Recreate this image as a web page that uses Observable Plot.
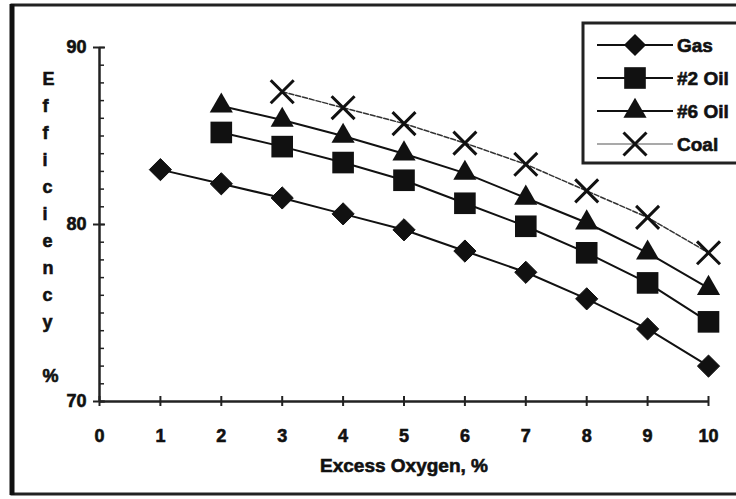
<!DOCTYPE html>
<html>
<head>
<meta charset="utf-8">
<script src="https://cdn.jsdelivr.net/npm/d3@7"></script>
<script src="https://cdn.jsdelivr.net/npm/@observablehq/plot@0.6"></script>
<style>
  html, body { margin: 0; padding: 0; background: #fff; }
  #chart { width: 736px; height: 499px; }
  #chart svg text { stroke: #111; stroke-width: 0.6px; }
</style>
</head>
<body>
<div id="chart"></div>
<script>
// ---- data ----
const series = ["Gas", "#2 Oil", "#6 Oil", "Coal"];
const gasX = [1, 2, 3, 4, 5, 6, 7, 8, 9, 10];
const gasY = [83.1, 82.3, 81.5, 80.6, 79.7, 78.5, 77.3, 75.8, 74.1, 72.0];
const oil2X = [2, 3, 4, 5, 6, 7, 8, 9, 10];
const oil2Y = [85.2, 84.4, 83.5, 82.5, 81.2, 79.9, 78.4, 76.7, 74.5];
const oil6X = [2, 3, 4, 5, 6, 7, 8, 9, 10];
const oil6Y = [86.7, 85.9, 85.0, 84.0, 82.9, 81.5, 80.1, 78.4, 76.4];
const coalX = [3, 4, 5, 6, 7, 8, 9, 10];
const coalY = [87.5, 86.6, 85.7, 84.6, 83.4, 81.9, 80.4, 78.4];
const xTicks = [0, 1, 2, 3, 4, 5, 6, 7, 8, 9, 10];
const yTicks = [70, 80, 90];
const yMinor = d3.range(70, 91, 1);
const xLabel = "Excess Oxygen, %";
const yLabel = "E\nf\nf\ni\nc\ni\ne\nn\nc\ny\n\n%";

const rows = [
  ...gasX.map((x, i) => ({series: "Gas", x, y: gasY[i]})),
  ...oil2X.map((x, i) => ({series: "#2 Oil", x, y: oil2Y[i]})),
  ...oil6X.map((x, i) => ({series: "#6 Oil", x, y: oil6Y[i]})),
  ...coalX.map((x, i) => ({series: "Coal", x, y: coalY[i]}))
];
const of = s => rows.filter(d => d.series === s);

const FONT = "'Liberation Sans', Arial, sans-serif";
const symbols = {"Gas": "diamond2", "#2 Oil": "square", "#6 Oil": "triangle", "Coal": "times"};
const radii = {"Gas": 10, "#2 Oil": 12.2, "#6 Oil": 8.6, "Coal": 10.5};

const W = 736, H = 499, ML = 99, MR = 28, MT = 47, MB = 98;
const frameW = W - ML - MR, frameH = H - MT - MB;

const plot = Plot.plot({
  width: W,
  height: H,
  marginLeft: ML,
  marginRight: MR,
  marginTop: MT,
  marginBottom: MB,
  style: {fontFamily: FONT, fontWeight: "bold", fontSize: "18px", color: "#111", background: "#fff"},
  x: {domain: [0, 10]},
  y: {domain: [70, 90]},
  marks: [
    // axis lines
    Plot.ruleX([0], {stroke: "#222", strokeWidth: 2.5}),
    Plot.ruleY([70], {stroke: "#222", strokeWidth: 2.5}),
    // y minor ticks (inside, to the right of the axis)
    Plot.tickY(yMinor, {y: d => d, insetRight: frameW - 5, stroke: "#222", strokeWidth: 1.5}),
    Plot.tickY(yTicks, {y: d => d, insetRight: frameW - 6, stroke: "#222", strokeWidth: 2}),
    // y labels and outer major ticks
    Plot.axisY({ticks: yTicks, tickSize: 6, tickPadding: 7, stroke: "#222", strokeWidth: 2, fontSize: 18, fontWeight: "bold", label: null}),
    // x ticks crossing the axis
    Plot.tickX(xTicks, {x: d => d, insetTop: frameH - 5, stroke: "#222", strokeWidth: 2}),
    Plot.axisX({ticks: xTicks, tickSize: 5, tickPadding: 23, stroke: "#222", strokeWidth: 2, fontSize: 18, fontWeight: "bold", label: null}),
    // axis titles
    Plot.text([xLabel], {frameAnchor: "bottom", dy: 70, fontSize: 19, fontWeight: "bold", fill: "#111"}),
    Plot.text([yLabel], {frameAnchor: "left", dx: -57, lineHeight: 1.5, fontSize: 18, fontWeight: "bold", fill: "#111"}),
    // lines
    Plot.line(of("Gas"), {x: "x", y: "y", stroke: "#111", strokeWidth: 2}),
    Plot.line(of("#2 Oil"), {x: "x", y: "y", stroke: "#111", strokeWidth: 2}),
    Plot.line(of("#6 Oil"), {x: "x", y: "y", stroke: "#111", strokeWidth: 2}),
    Plot.line(of("Coal"), {x: "x", y: "y", stroke: "#333", strokeWidth: 1.5, strokeDasharray: "5,2"}),
    // markers
    Plot.dot(of("Gas"), {x: "x", y: "y", symbol: () => symbols["Gas"], r: radii["Gas"], fill: "#111", stroke: "#111", strokeWidth: 1}),
    Plot.dot(of("#2 Oil"), {x: "x", y: "y", symbol: () => symbols["#2 Oil"], r: radii["#2 Oil"], fill: "#111"}),
    Plot.dot(of("#6 Oil"), {x: "x", y: "y", symbol: () => symbols["#6 Oil"], r: radii["#6 Oil"], fill: "#111"}),
    Plot.dot(of("Coal"), {x: "x", y: "y", symbol: () => symbols["Coal"], r: radii["Coal"], stroke: "#111", strokeWidth: 3, fill: "none"})
  ]
});

// ---- legend and frame (decoration) ----
const svg = d3.select(plot);
svg.append("rect").attr("x", 12).attr("y", 5).attr("width", 760).attr("height", 489)
  .attr("fill", "none").attr("stroke", "#222").attr("stroke-width", 3);
svg.append("line").attr("x1", 12).attr("x2", 12).attr("y1", 4).attr("y2", 495)
  .attr("stroke", "#111").attr("stroke-width", 5);

const lg = svg.append("g").attr("transform", "translate(583,23)");
lg.append("rect").attr("x", 0).attr("y", 0).attr("width", 200).attr("height", 140)
  .attr("fill", "#fff").attr("stroke", "#222").attr("stroke-width", 3);
const symMap = {"diamond2": d3.symbolDiamond2, "square": d3.symbolSquare, "triangle": d3.symbolTriangle, "times": d3.symbolTimes};
series.forEach((s, i) => {
  const cy = 22 + i * 33;
  const coal = s === "Coal";
  lg.append("line").attr("x1", 14).attr("x2", 90).attr("y1", cy).attr("y2", cy)
    .attr("stroke", coal ? "#555" : "#111").attr("stroke-width", coal ? 1.2 : 2);
  const r = radii[s];
  lg.append("path").attr("transform", `translate(52,${cy})`)
    .attr("d", d3.symbol(symMap[symbols[s]], Math.PI * r * r)())
    .attr("fill", coal ? "none" : "#111").attr("stroke", "#111").attr("stroke-width", coal ? 3 : 0);
  lg.append("text").attr("x", 94).attr("y", cy).attr("dy", "0.35em")
    .attr("text-anchor", "start").attr("font-size", 19).attr("font-weight", "bold")
    .attr("fill", "#111").text(s);
});

document.getElementById("chart").appendChild(plot);
</script>
</body>
</html>
